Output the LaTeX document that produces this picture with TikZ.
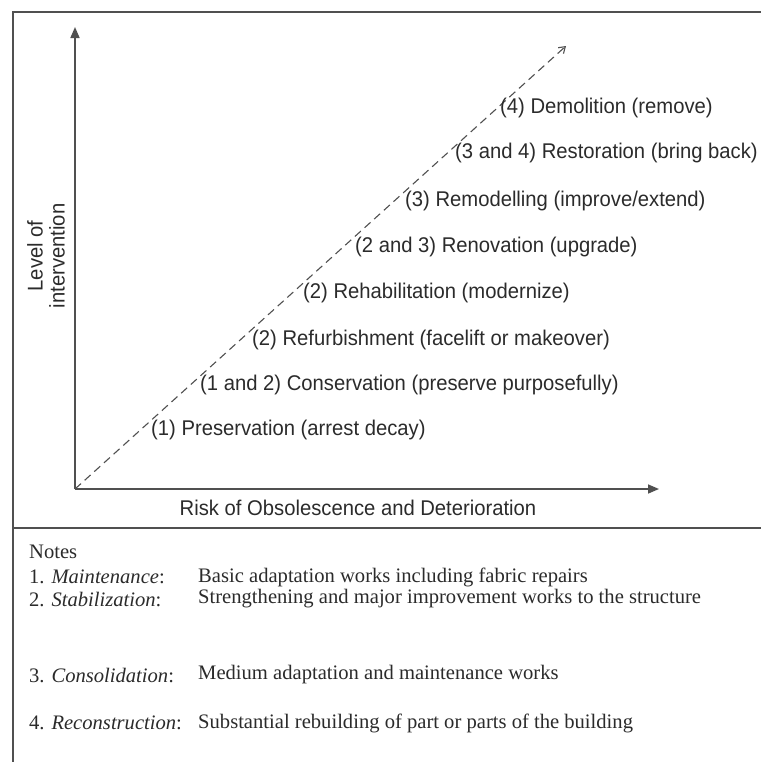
\documentclass[tikz,border=0pt]{standalone}
\usepackage{fontspec}
\setmainfont{Liberation Serif}
\newfontfamily\arialf[FakeStretch=0.95]{Liberation Sans}
\usetikzlibrary{arrows.meta}
\definecolor{txt}{HTML}{2B2B2B}
\definecolor{ln}{HTML}{505050}
\tikzset{
  lbl/.style={anchor=west, inner sep=0pt, text=txt, font=\arialf\fontsize{21.3}{22}\selectfont},
  note/.style={anchor=west, inner sep=0pt, text=txt, font=\fontsize{20.6}{22}\selectfont},
  frame/.style={draw=ln, line width=1.6pt},
  axis/.style={draw=ln, line width=1.6pt, -{Triangle[length=11pt,width=9pt]}},
  diag/.style={draw=ln, line width=1.1pt, dash pattern=on 8pt off 5pt, -{Straight Barb[length=6pt,width=8pt]}}
}
\begin{document}
\begin{tikzpicture}[x=1pt,y=-1pt]
\useasboundingbox[fill=white] (0,0) rectangle (761,764);
% frame
\coordinate (tl) at (13,12);
\coordinate (tr) at (761,12);
\coordinate (bl) at (13,762);
\coordinate (dl) at (13,528);
\coordinate (dr) at (761,528);
\draw[frame] (tr) -- (tl) -- (bl);
\draw[frame] (dl) -- (dr);
% axes
\coordinate (o) at (75,489);
\coordinate (ytip) at (75,27);
\coordinate (xtip) at (659,489);
\coordinate (dtip) at (566,46);
\draw[axis] (o) -- (ytip);
\draw[axis] (o) -- (xtip);
\draw[diag] (o) -- (dtip);
% axis labels
\node[lbl, anchor=center, align=center, rotate=90] (ylab) at (46,256) {Level of\\intervention};
\node[lbl, anchor=center] (xlab) at (358,508) {Risk of Obsolescence and Deterioration};
% levels
\node[lbl] (l4) at (500,108) {(4) Demolition (remove)};
\node[lbl] (l34) at (455,153) {(3 and 4) Restoration (bring back)};
\node[lbl] (l3) at (405,201) {(3) Remodelling (improve/extend)};
\node[lbl] (l23) at (355,247) {(2 and 3) Renovation (upgrade)};
\node[lbl] (l2b) at (303,293) {(2) Rehabilitation (modernize)};
\node[lbl] (l2a) at (252,340) {(2) Refurbishment (facelift or makeover)};
\node[lbl] (l12) at (200,385) {(1 and 2) Conservation (preserve purposefully)};
\node[lbl] (l1) at (151,430) {(1) Preservation (arrest decay)};
% notes
\node[note] (notes) at (29,552) {Notes};
\node[note] (n1) at (29,577) {1. \textit{Maintenance}:};
\node[note] (d1) at (198,577) {Basic adaptation works including fabric repairs};
\node[note] (n2) at (29,599) {2. \textit{Stabilization}:};
\node[note] (d2) at (198,599) {Strengthening and major improvement works to the structure};
\node[note] (n3) at (29,675) {3. \textit{Consolidation}:};
\node[note] (d3) at (198,675) {Medium adaptation and maintenance works};
\node[note] (n4) at (29,723) {4. \textit{Reconstruction}:};
\node[note] (d4) at (198,723) {Substantial rebuilding of part or parts of the building};
\end{tikzpicture}
\end{document}
